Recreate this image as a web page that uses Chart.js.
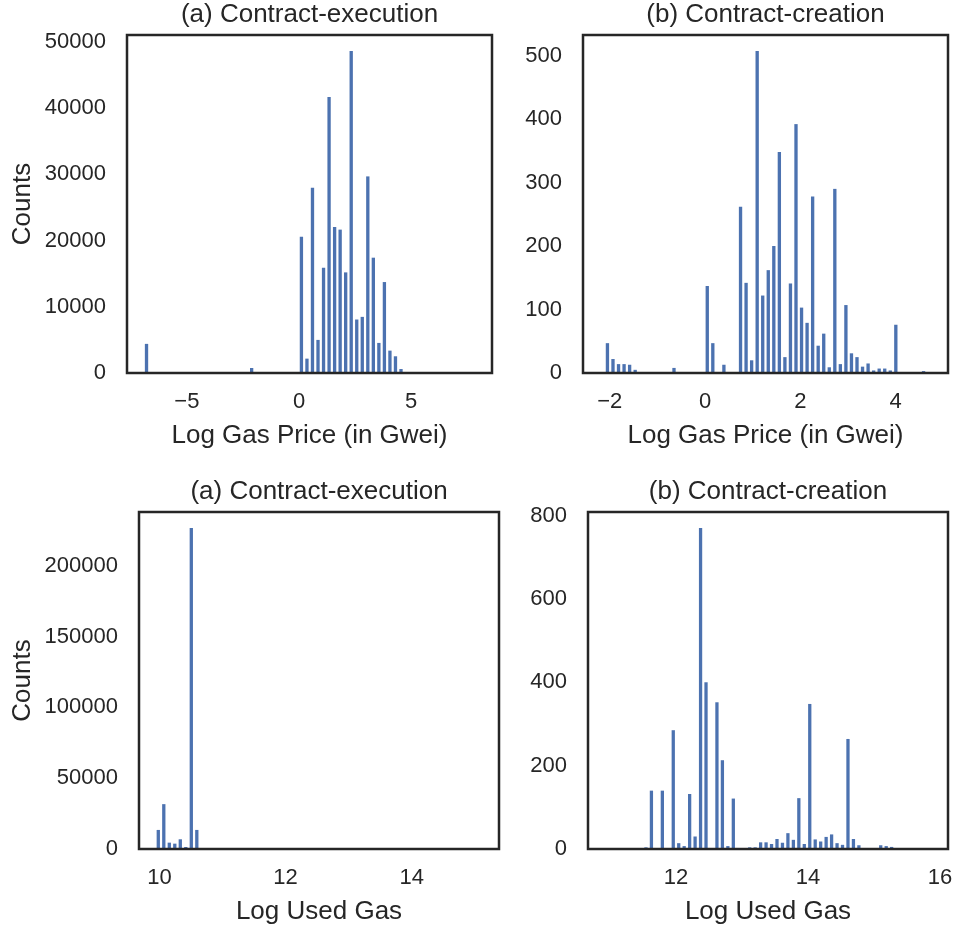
<!DOCTYPE html>
<html>
<head>
<meta charset="utf-8">
<script src="https://cdn.jsdelivr.net/npm/chart.js@4.4.0/dist/chart.umd.min.js"></script>
<style>
  body { margin: 0; background: #fff; }
  #figure { position: relative; width: 955px; height: 929px; }
  #figure canvas { position: absolute; }
</style>
</head>
<body>
<div id="figure">
  <canvas id="gasExec" width="500" height="451" style="left:0;top:0"></canvas>
  <canvas id="gasCreate" width="455" height="451" style="left:500px;top:0"></canvas>
  <canvas id="usedExec" width="510" height="450" style="left:0;top:477px"></canvas>
  <canvas id="usedCreate" width="445" height="450" style="left:510px;top:477px"></canvas>
</div>
<script>
// histogram bins: centre of first bin, bin width, counts per bin

// log gas price, contract execution
const gasExecBinStart = -6.80;
const gasExecBinWidth = 0.2466;
const gasExecCounts = [
  4400, 0, 0, 0, 0, 0, 0, 0, 0, 0,
  0, 0, 0, 0, 0, 0, 0, 0, 0, 760,
  0, 0, 0, 0, 0, 0, 0, 0, 20600, 2170,
  27980, 5000, 15900, 41700, 22070, 21660, 15200, 48630, 8080, 8480,
  29700, 17420, 4545, 13740, 3380, 2525, 600, 0, 0, 0,
  0, 0, 0, 0, 0, 0, 0, 0, 0, 0
];
const gasExecTicksX = [-5, 0, 5];
const gasExecTicksY = [0, 10000, 20000, 30000, 40000, 50000];

// log gas price, contract creation
const gasCreateBinStart = -2.048;
const gasCreateBinWidth = 0.1164;
const gasCreateCounts = [
  47, 22, 14, 14, 13, 5, 0, 0, 0, 0,
  0, 0, 8, 0, 0, 0, 0, 0, 137, 47,
  0, 13, 0, 0, 262, 142, 20, 507, 122, 162,
  200, 348, 25, 141, 392, 103, 79, 278, 43, 62,
  9, 290, 14, 107, 31, 25, 10, 15, 4, 7,
  7, 4, 76, 0, 0, 0, 0, 3
];
const gasCreateTicksX = [-2, 0, 2, 4];
const gasCreateTicksY = [0, 100, 200, 300, 400, 500];

// log used gas, contract execution
const usedExecBinStart = 9.981;
const usedExecBinWidth = 0.0873;
const usedExecCounts = [
  13470, 31680, 4490, 3780, 6860, 1420, 226700, 13470, 700, 0,
  0, 0, 0, 0, 0, 0, 0, 0, 0, 0,
  0, 0, 0, 0, 0, 0, 0, 0, 300, 0,
  0, 0, 0, 0, 0, 0, 0, 0, 0, 0,
  0, 0, 0, 0, 0, 0, 0, 0, 0, 0,
  0, 0, 0, 0, 0, 0, 0, 0, 0, 0
];
const usedExecTicksX = [10, 12, 14];
const usedExecTicksY = [0, 50000, 100000, 150000, 200000];

// log used gas, contract creation
const usedCreateBinStart = 11.545;
const usedCreateBinWidth = 0.0827;
const usedCreateCounts = [
  4, 140, 0, 140, 0, 285, 14, 7, 132, 30,
  770, 400, 0, 352, 213, 7, 121, 1, 0, 4,
  4, 16, 16, 12, 24, 15, 38, 22, 122, 12,
  348, 23, 18, 29, 35, 14, 10, 264, 24, 9,
  0, 0, 0, 9, 7, 5, 2
];
const usedCreateTicksX = [12, 14, 16];
const usedCreateTicksY = [0, 200, 400, 600, 800];

const INK = '#262626';
const BAR = '#4c72b0';
Chart.defaults.font.family = "'Liberation Sans', Arial, sans-serif";
Chart.defaults.color = INK;

// axes frame on all four sides plus a title centred over the plot area
const framePlugin = {
  id: 'frame',
  afterDraw(chart, args, opts) {
    const { ctx, chartArea: a } = chart;
    ctx.save();
    ctx.strokeStyle = INK;
    ctx.lineWidth = 2.5;
    ctx.strokeRect(a.left, a.top, a.right - a.left, a.bottom - a.top);
    ctx.fillStyle = INK;
    ctx.font = "26px 'Liberation Sans', Arial, sans-serif";
    ctx.textAlign = 'center';
    ctx.textBaseline = 'middle';
    ctx.fillText(opts.text, (a.left + a.right) / 2, a.top - 20);
    ctx.restore();
  }
};

function fmt(v) {
  return v < 0 ? '\u2212' + Math.abs(v) : String(v);
}

function histogram(id, p) {
  const points = p.counts.map((c, i) => ({ x: p.binStart + i * p.binWidth, y: c }));
  new Chart(document.getElementById(id), {
    type: 'bar',
    data: {
      datasets: [{
        data: points,
        backgroundColor: BAR,
        borderWidth: 0,
        barPercentage: 0.6,
        categoryPercentage: 1.0
      }]
    },
    options: {
      responsive: false,
      animation: false,
      layout: { padding: { left: 0, right: p.padRight, top: 35, bottom: 0 } },
      plugins: {
        legend: { display: false },
        tooltip: { enabled: false },
        frame: { text: p.title }
      },
      scales: {
        x: {
          type: 'linear',
          offset: false,
          min: p.xMin,
          max: p.xMax,
          grid: { display: false, drawTicks: false },
          border: { display: false },
          afterBuildTicks: s => { s.ticks = p.ticksX.map(v => ({ value: v })); },
          // fixed axis height; tick labels may hang past the plot edges
          afterFit: s => { s.height = 78; s.paddingLeft = 0; s.paddingRight = 0; },
          ticks: { font: { size: 22 }, padding: 16, maxRotation: 0, callback: fmt },
          title: { display: true, text: p.xLabel, font: { size: 26 }, padding: { top: 0, bottom: 0 } }
        },
        y: {
          min: 0,
          max: Math.max(...p.counts) * 1.05,
          grid: { display: false, drawTicks: false },
          border: { display: false },
          afterBuildTicks: s => { s.ticks = p.ticksY.map(v => ({ value: v })); },
          afterFit: s => { s.width = p.yWidth; s.paddingTop = 0; s.paddingBottom = 0; },
          ticks: { font: { size: 22 }, padding: 21, callback: fmt },
          title: { display: p.yLabel !== '', text: p.yLabel, font: { size: 26 }, padding: { top: 7, bottom: 0 } }
        }
      }
    },
    plugins: [framePlugin]
  });
}

histogram('gasExec', {
  title: '(a) Contract-execution', xLabel: 'Log Gas Price (in Gwei)', yLabel: 'Counts',
  binStart: gasExecBinStart, binWidth: gasExecBinWidth, counts: gasExecCounts,
  ticksX: gasExecTicksX, ticksY: gasExecTicksY,
  xMin: -7.67, xMax: 8.60, yWidth: 127, padRight: 8
});

histogram('gasCreate', {
  title: '(b) Contract-creation', xLabel: 'Log Gas Price (in Gwei)', yLabel: '',
  binStart: gasCreateBinStart, binWidth: gasCreateBinWidth, counts: gasCreateCounts,
  ticksX: gasCreateTicksX, ticksY: gasCreateTicksY,
  xMin: -2.561, xMax: 5.10, yWidth: 83, padRight: 7
});

histogram('usedExec', {
  title: '(a) Contract-execution', xLabel: 'Log Used Gas', yLabel: 'Counts',
  binStart: usedExecBinStart, binWidth: usedExecBinWidth, counts: usedExecCounts,
  ticksX: usedExecTicksX, ticksY: usedExecTicksY,
  xMin: 9.675, xMax: 15.386, yWidth: 139, padRight: 11
});

histogram('usedCreate', {
  title: '(b) Contract-creation', xLabel: 'Log Used Gas', yLabel: '',
  binStart: usedCreateBinStart, binWidth: usedCreateBinWidth, counts: usedCreateCounts,
  ticksX: usedCreateTicksX, ticksY: usedCreateTicksY,
  xMin: 10.667, xMax: 16.12, yWidth: 78, padRight: 7
});
</script>
</body>
</html>
